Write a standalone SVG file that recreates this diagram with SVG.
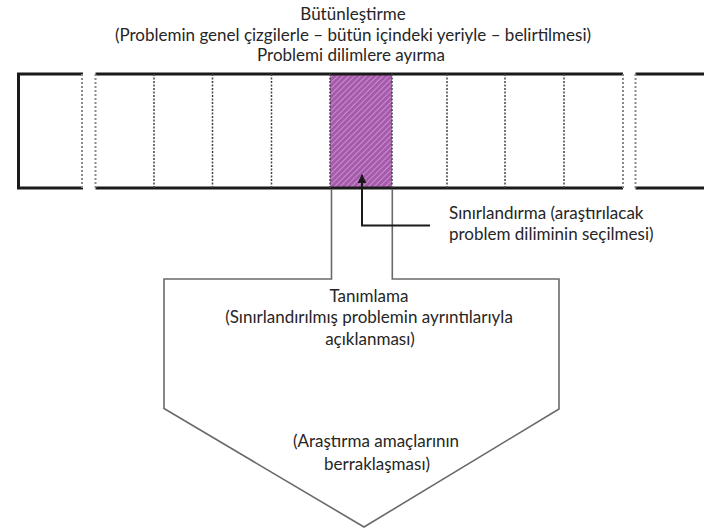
<svg xmlns="http://www.w3.org/2000/svg" width="704" height="529" viewBox="0 0 704 529">
<style>
text{font-family:Lato,"Open Sans","Liberation Sans",sans-serif;font-size:17px;fill:#262626;text-anchor:middle}
.edge{stroke:#1a1a1a;stroke-width:3;fill:none}
.div{stroke:#444;stroke-width:1.5;stroke-dasharray:2 1.5;fill:none}
.brk{stroke:#8a8a8a;stroke-width:2;stroke-dasharray:2 2;fill:none}
.outline{stroke:#6a6a6a;stroke-width:1.6;fill:none}
.lbl{text-anchor:start}
</style>
<defs>
<pattern id="hatch" width="4" height="4" patternUnits="userSpaceOnUse" patternTransform="rotate(45)">
<rect width="4" height="4" fill="#a65aab"/>
<line x1="0" y1="0" x2="0" y2="4" stroke="#d9aede" stroke-width="1.3"/>
</pattern>
<marker id="arr" viewBox="0 0 10 10" refX="9" refY="5" markerWidth="9" markerHeight="9" markerUnits="userSpaceOnUse" orient="auto">
<path d="M0,0 L10,5 L0,10 z" fill="#1a1a1a"/>
</marker>
</defs>
<rect width="704" height="529" fill="#fff"/>

<g id="title">
<text x="353" y="20">Bütünleştirme</text>
<text x="353" y="41">(Problemin genel çizgilerle – bütün içindeki yeriyle – belirtilmesi)</text>
<text x="351" y="61">Problemi dilimlere ayırma</text>
</g>

<g id="bar">
<rect id="selected-slice" x="330" y="74" width="62" height="114" fill="url(#hatch)"/>
<path class="edge" d="M83,74 H18.5 V188 H83"/>
<path class="edge" d="M95.5,74 H623 M95.5,188 H623"/>
<path class="edge" d="M635.5,74 H706 M635.5,188 H706"/>
<path class="brk" d="M82,74 V188 M95.5,74 V188 M623,74 V188 M635.5,74 V188"/>
<path class="div" d="M154,74 V188 M212.5,74 V188 M271.5,74 V188 M330,74 V188 M392,74 V188 M447,74 V188 M505,74 V188 M564,74 V188"/>
</g>

<g id="definition">
<path class="outline" d="M331.5,189 V279 H164 V408.5 L364,527 L559,409 V279 H392.3 V189"/>
<text x="369" y="302">Tanımlama</text>
<text x="369" y="323">(Sınırlandırılmış problemin ayrıntılarıyla</text>
<text x="370" y="345">açıklanması)</text>
<text x="376" y="447">(Araştırma amaçlarının</text>
<text x="377" y="470">berraklaşması)</text>
</g>

<g id="limit-label">
<text class="lbl" x="449" y="219">Sınırlandırma (araştırılacak</text>
<text class="lbl" x="449" y="240">problem diliminin seçilmesi)</text>
</g>

<g id="connectors">
<path d="M430,225.5 H362 V175" stroke="#1a1a1a" stroke-width="2" fill="none" marker-end="url(#arr)"/>
</g>
</svg>
